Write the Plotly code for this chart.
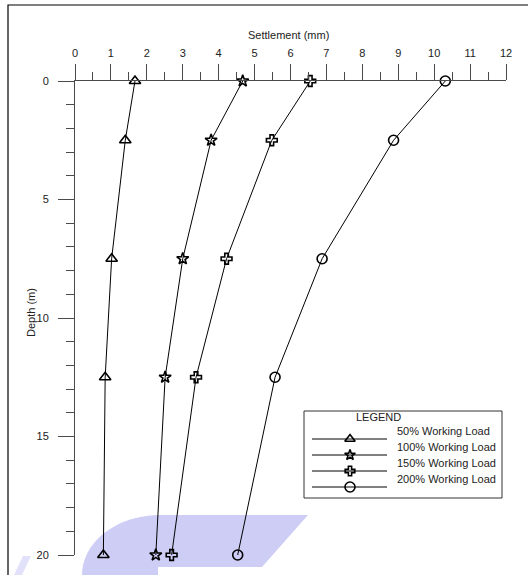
import math
import plotly.graph_objects as go

# Pile settlement profiles under increasing load
depth_m = [0, 2.5, 7.5, 12.5, 20]
settle_50 = [1.67, 1.40, 1.02, 0.84, 0.79]
settle_100 = [4.67, 3.79, 3.00, 2.51, 2.25]
settle_150 = [6.55, 5.48, 4.22, 3.37, 2.69]
settle_200 = [10.31, 8.87, 6.88, 5.57, 4.53]

series_names = ["50% Working Load", "100% Working Load",
                "150% Working Load", "200% Working Load"]
series_values = [settle_50, settle_100, settle_150, settle_200]
symbols = ["triangle-up-open", "star-open", "cross-open", "circle-open"]
sizes = [10, 9, 9, 10]
key_sizes = [9, 8, 8, 10]

x_ticks = list(range(0, 13))
x_minor = [i + 0.5 for i in range(0, 12)]
y_ticks = [0, 5, 10, 15, 20]
y_minor = [i for i in range(0, 21) if i % 5]

W, H = 528, 575
ML, MR, MT, MB = 75, 22, 81, 20
PW, PH = W - ML - MR, H - MT - MB
X_MAX, Y_MAX = 12, 20

FONT = "Liberation Sans, Arial, sans-serif"
AXIS_COLOR = "#4a4a4a"


def px(x):
    return (x - ML) / PW


def py(y):
    return (H - MB - y) / PH


def to_data_x(x):
    return (x - ML) / PW * X_MAX


def to_data_y(y):
    return (y - MT) / PH * Y_MAX


fig = go.Figure()

for name, vals, sym, sz in zip(series_names, series_values, symbols, sizes):
    fig.add_trace(go.Scatter(
        x=vals, y=depth_m, mode="lines+markers", name=name,
        line=dict(color="black", width=1),
        marker=dict(symbol=sym, size=sz, color="black",
                    line=dict(color="black", width=1.6)),
        cliponaxis=False, showlegend=False,
    ))

# Hand-drawn legend box
leg_x0, leg_x1, leg_y0, leg_y1 = 304, 502, 411, 498
leg_rows = [439, 455, 471, 487]
line_x0, line_x1, mark_x, text_x = 312, 387, 350, 395

shapes = []

# watermark band along the bottom edge
pts = []
cx, cy, rx, ry = 160, 575, 78, 60
for i in range(0, 21):
    a = math.pi - (math.pi / 2) * i / 20
    pts.append((cx + rx * math.cos(a), cy - ry * math.sin(a)))
pts += [(308, 515), (262, 567), (158, 567), (158, 575)]
path = "M " + " L ".join(f"{px(a):.5f},{py(b):.5f}" for a, b in pts) + " Z"
shapes.append(dict(type="path", xref="paper", yref="paper", path=path,
                   fillcolor="rgb(205,205,246)", line=dict(width=0),
                   layer="below"))
pts2 = [(14, 575), (23, 556), (31, 556), (22, 575)]
path2 = "M " + " L ".join(f"{px(a):.5f},{py(b):.5f}" for a, b in pts2) + " Z"
shapes.append(dict(type="path", xref="paper", yref="paper", path=path2,
                   fillcolor="rgb(225,225,250)", line=dict(width=0),
                   layer="below"))

# outer frame
shapes.append(dict(type="rect", xref="paper", yref="paper",
                   x0=px(8), x1=px(560), y0=py(5), y1=py(600),
                   line=dict(color="black", width=1.2), layer="above"))

# legend border and sample lines
shapes.append(dict(type="rect", xref="paper", yref="paper",
                   x0=px(leg_x0), x1=px(leg_x1), y0=py(leg_y0), y1=py(leg_y1),
                   line=dict(color="#333333", width=1), fillcolor="white",
                   layer="below"))
for ry_ in leg_rows:
    shapes.append(dict(type="line", xref="paper", yref="paper",
                       x0=px(line_x0), x1=px(line_x1), y0=py(ry_), y1=py(ry_),
                       line=dict(color="black", width=1), layer="below"))

for ry_, sym, sz in zip(leg_rows, symbols, key_sizes):
    fig.add_trace(go.Scatter(
        x=[to_data_x(mark_x)], y=[to_data_y(ry_)],
        mode="markers", showlegend=False, cliponaxis=False,
        marker=dict(symbol=sym, size=sz, color="black",
                    line=dict(color="black", width=1.6)),
        hoverinfo="skip",
    ))

annotations = [
    dict(text="Settlement (mm)", xref="paper", yref="paper",
         x=px(288), y=py(27), showarrow=False,
         font=dict(family=FONT, size=11, color="#222")),
    dict(text="Depth (m)", xref="paper", yref="paper", textangle=-90,
         x=px(23), y=py(313), showarrow=False,
         font=dict(family=FONT, size=11, color="#222")),
    dict(text="LEGEND", xref="paper", yref="paper",
         x=px(403), y=py(425), showarrow=False,
         font=dict(family=FONT, size=11, color="#222")),
]
for ry_, name in zip(leg_rows, series_names):
    annotations.append(dict(text=name, xref="paper", yref="paper",
                            x=px(text_x), y=py(ry_), xanchor="left",
                            showarrow=False,
                            font=dict(family=FONT, size=11, color="#222")))

fig.update_layout(
    width=W, height=H,
    margin=dict(l=ML, r=MR, t=MT, b=MB, pad=0),
    paper_bgcolor="white", plot_bgcolor="rgba(0,0,0,0)",
    font=dict(family=FONT, size=11, color="#222"),
    shapes=shapes, annotations=annotations,
    xaxis=dict(side="top", range=[0, X_MAX], tickmode="array",
               tickvals=x_ticks, ticklabelstandoff=3,
               ticks="outside", ticklen=16, tickwidth=1, tickcolor=AXIS_COLOR,
               minor=dict(tickmode="array", tickvals=x_minor, ticks="outside",
                          ticklen=8, tickcolor=AXIS_COLOR, showgrid=False),
               showline=True, linecolor=AXIS_COLOR, linewidth=1,
               showgrid=False, zeroline=False,
               tickfont=dict(family=FONT, size=11, color="#222")),
    yaxis=dict(range=[Y_MAX, 0], tickmode="array", tickvals=y_ticks,
               ticklabelstandoff=7,
               ticks="outside", ticklen=16, tickwidth=1, tickcolor=AXIS_COLOR,
               minor=dict(tickmode="array", tickvals=y_minor, ticks="outside",
                          ticklen=8, tickcolor=AXIS_COLOR, showgrid=False),
               showline=True, linecolor=AXIS_COLOR, linewidth=1,
               showgrid=False, zeroline=False,
               tickfont=dict(family=FONT, size=11, color="#222")),
)

fig.write_html("out.html")
